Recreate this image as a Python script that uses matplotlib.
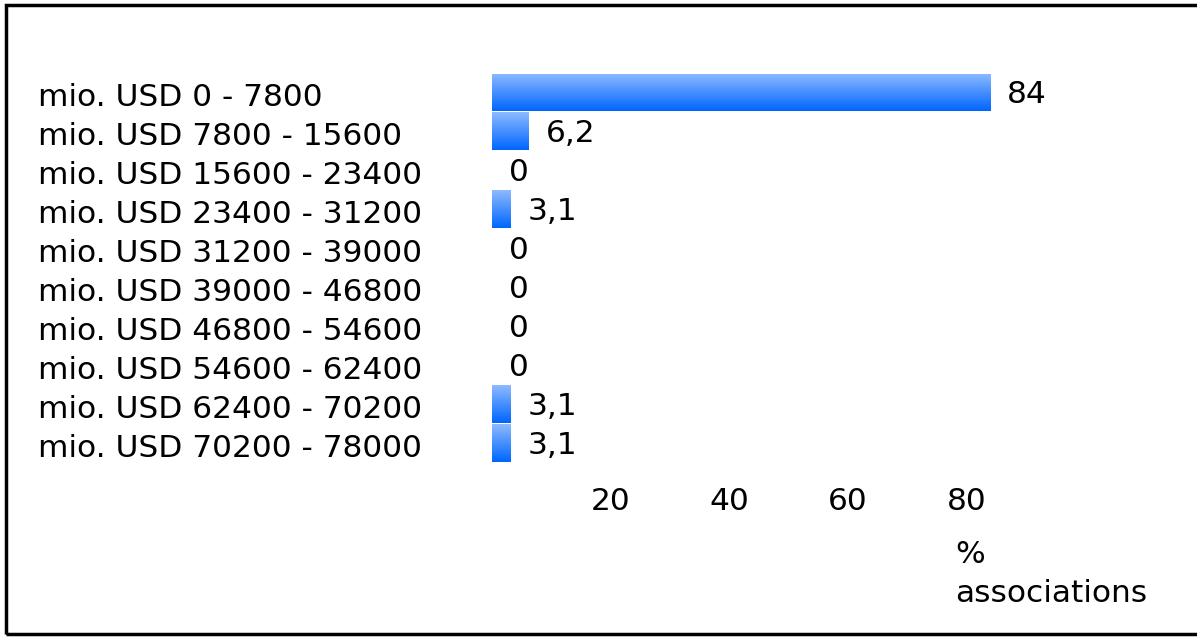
import matplotlib
matplotlib.use('Agg')
import matplotlib.pyplot as plt
from matplotlib.colors import LinearSegmentedColormap
from matplotlib.patches import Rectangle
import numpy as np

categories = ['mio. USD 0 - 7800', 'mio. USD 7800 - 15600', 'mio. USD 15600 - 23400',
              'mio. USD 23400 - 31200', 'mio. USD 31200 - 39000', 'mio. USD 39000 - 46800',
              'mio. USD 46800 - 54600', 'mio. USD 54600 - 62400', 'mio. USD 62400 - 70200',
              'mio. USD 70200 - 78000']
values = [84, 6.2, 0, 3.1, 0, 0, 0, 0, 3.1, 3.1]
value_labels = ['84', '6,2', '0', '3,1', '0', '0', '0', '0', '3,1', '3,1']
ticks = [20, 40, 60, 80]

W, H = 1197, 637
FS = 22.5
fig = plt.figure(figsize=(W / 100, H / 100), dpi=100)
plt.rcParams['font.family'] = 'DejaVu Sans'

# axes placed in pixel terms: x from 492 px, 5.93 px per percent
left, right = 492, 492 + 100 * 5.93
top, bottom = 73.5, 463
ax = fig.add_axes([left / W, 1 - bottom / H, (right - left) / W, (bottom - top) / H])

grad = LinearSegmentedColormap.from_list('bar', ['#0066ff', '#8dbaff'])
ramp = np.linspace(0, 1, 64).reshape(-1, 1)
bh = 0.95
y = np.arange(len(values))
for i, v in enumerate(values):
    if v > 0:
        ax.imshow(ramp, cmap=grad, aspect='auto', origin='lower',
                  extent=[0, v, i + bh / 2, i - bh / 2], interpolation='bilinear')
    ax.text(v + 17 / 5.93, i + 0.05, value_labels[i], va='center', ha='left', fontsize=FS)

ax.set_xlim(0, 100)
ax.set_ylim(len(values) - 0.5, -0.5)
ax.set_yticks(y + 0.05)
ax.set_yticklabels(categories, ha='left', fontsize=FS)
ax.tick_params(axis='y', length=0, pad=(492 - 38) * 0.72)
ax.set_xticks(ticks)
ax.set_xticklabels([str(t) for t in ticks], fontsize=FS)
ax.tick_params(axis='x', length=0, pad=17)
for s in ax.spines.values():
    s.set_visible(False)

fig.text(955 / W, 1 - 563 / H, '%', ha='left', va='baseline', fontsize=FS)
fig.text(955 / W, 1 - 602 / H, 'associations', ha='left', va='baseline', fontsize=FS)

# frame around the figure
fig.add_artist(Rectangle((5.5 / W, 1 - 634 / H), (W + 10) / W, (634 - 4.5) / H,
                         transform=fig.transFigure, fill=False, edgecolor='black',
                         linewidth=2.5))

fig.savefig('out.png', dpi=100)
